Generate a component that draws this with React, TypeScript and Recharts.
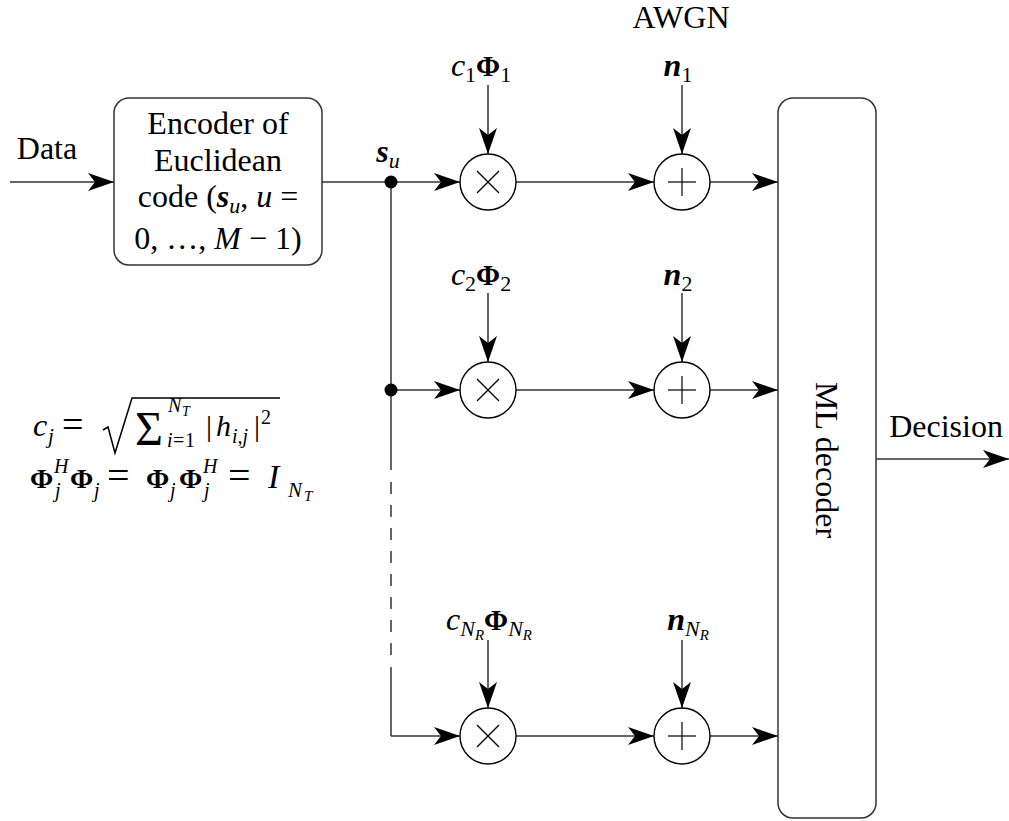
import React from 'react';
import { ScatterChart, Scatter, XAxis, YAxis, ReferenceLine, ReferenceArea } from 'recharts';

const SERIF = '"Liberation Serif", "Times New Roman", Times, serif';
const INK = '#000';
const LINE = '#333';

// ---- diagram data (in diagram units, mapped by the chart's own scales) ----
const canvasX = [0, 1009];
const canvasY = [0, 821];

const branchRows = [182, 390, 736];          // y of the three receive branches
const multiplierX = 488;
const adderX = 682;
const junctionX = 391;
const gainLabelX = [481, 481, 489];
const noiseLabelX = [678, 678, 688];
const labelBaseline = [76, 285, 630];
const feedStart = [85, 293, 640];

const boxes = [
  { id: 'encoder', x1: 114, x2: 322, y1: 98, y2: 265 },
  { id: 'ml', x1: 778, x2: 876, y1: 98, y2: 818 },
];

type Run = { t: string; f?: string; l?: number };

const gainLabels: Run[][] = [
  [{ t: 'c', f: 'i' }, { t: '1', l: 1 }, { t: 'Φ', f: 'b' }, { t: '1', l: 1 }],
  [{ t: 'c', f: 'i' }, { t: '2', l: 1 }, { t: 'Φ', f: 'b' }, { t: '2', l: 1 }],
  [{ t: 'c', f: 'i' }, { t: 'N', f: 'i', l: 1 }, { t: 'R', f: 'i', l: 2 }, { t: 'Φ', f: 'b' }, { t: 'N', f: 'i', l: 1 }, { t: 'R', f: 'i', l: 2 }],
];
const noiseLabels: Run[][] = [
  [{ t: 'n', f: 'bi' }, { t: '1', l: 1 }],
  [{ t: 'n', f: 'bi' }, { t: '2', l: 1 }],
  [{ t: 'n', f: 'bi' }, { t: 'N', f: 'i', l: 1 }, { t: 'R', f: 'i', l: 2 }],
];

const encoderLines: Run[][] = [
  [{ t: 'Encoder of' }],
  [{ t: 'Euclidean' }],
  [{ t: 'code (' }, { t: 's', f: 'bi' }, { t: 'u', f: 'i', l: 1 }, { t: ', ' }, { t: 'u', f: 'i' }, { t: ' =' }],
  [{ t: '0, …, ' }, { t: 'M', f: 'i' }, { t: ' − 1)' }],
];
const encoderBaselines = [134, 171, 207, 249];

const plainLabels = [
  { x: 47, y: 159, runs: [{ t: 'Data' }] as Run[] },
  { x: 681, y: 28, runs: [{ t: 'AWGN' }] as Run[] },
  { x: 946, y: 437, runs: [{ t: 'Decision' }] as Run[] },
  { x: 388, y: 162, runs: [{ t: 's', f: 'bi' }, { t: 'u', f: 'i', l: 1 }] as Run[] },
];

type Piece = { t: string; f?: string; s: number; dx: number; dy: number };
const formulaCj: Piece[] = [
  { t: 'c', f: 'i', s: 32, dx: 0, dy: 0 },
  { t: 'j', f: 'i', s: 21, dx: 15, dy: 7 },
  { t: '=', s: 38, dx: 29, dy: 1 },
  { t: 'Σ', s: 48, dx: 102, dy: 9 },
  { t: 'N', f: 'i', s: 20, dx: 135, dy: -24 },
  { t: 'T', f: 'i', s: 14, dx: 149, dy: -20 },
  { t: 'i', f: 'i', s: 20, dx: 134, dy: 11 },
  { t: '=', s: 20, dx: 140, dy: 11 },
  { t: '1', s: 20, dx: 152, dy: 11 },
  { t: '|', s: 30, dx: 173, dy: 0 },
  { t: 'h', f: 'i', s: 30, dx: 183, dy: 0 },
  { t: 'i,j', f: 'i', s: 20, dx: 199, dy: 7 },
  { t: '|', s: 30, dx: 221, dy: 0 },
  { t: '2', s: 20, dx: 228, dy: -12 },
];
const formulaPhi: Piece[] = [
  { t: 'Φ', f: 'b', s: 28, dx: 0, dy: 0 },
  { t: 'H', f: 'i', s: 20, dx: 24, dy: -15 },
  { t: 'j', f: 'i', s: 20, dx: 25, dy: 9 },
  { t: 'Φ', f: 'b', s: 28, dx: 40, dy: 0 },
  { t: 'j', f: 'i', s: 20, dx: 64, dy: 9 },
  { t: '=', s: 40, dx: 77, dy: 1 },
  { t: 'Φ', f: 'b', s: 28, dx: 116, dy: 0 },
  { t: 'j', f: 'i', s: 20, dx: 140, dy: 9 },
  { t: 'Φ', f: 'b', s: 28, dx: 149, dy: 0 },
  { t: 'H', f: 'i', s: 20, dx: 173, dy: -15 },
  { t: 'j', f: 'i', s: 20, dx: 174, dy: 9 },
  { t: '=', s: 40, dx: 198, dy: 1 },
  { t: 'I', f: 'i', s: 34, dx: 238, dy: 0 },
  { t: 'N', f: 'i', s: 21, dx: 258, dy: 9 },
  { t: 'T', f: 'i', s: 15, dx: 274, dy: 13 },
];

// ---- derived drawing tables ----
type Seg = { x1: number; y1: number; x2: number; y2: number; dash?: string; head?: 'right' | 'down' };
const segments: Seg[] = [
  { x1: 10, y1: branchRows[0], x2: boxes[0].x1, y2: branchRows[0], head: 'right' },
  { x1: boxes[0].x2, y1: branchRows[0], x2: junctionX, y2: branchRows[0] },
  { x1: junctionX, y1: branchRows[0], x2: junctionX, y2: 470 },
  { x1: junctionX, y1: 482, x2: junctionX, y2: 655, dash: '12 11' },
  { x1: junctionX, y1: 667, x2: junctionX, y2: branchRows[2] },
  { x1: boxes[1].x2, y1: 459, x2: 1009, y2: 459, head: 'right' },
];
branchRows.forEach((y, i) => {
  segments.push({ x1: junctionX, y1: y, x2: multiplierX - 28, y2: y, head: 'right' });
  segments.push({ x1: multiplierX + 28, y1: y, x2: adderX - 28, y2: y, head: 'right' });
  segments.push({ x1: adderX + 28, y1: y, x2: boxes[1].x1, y2: y, head: 'right' });
  segments.push({ x1: multiplierX, y1: feedStart[i], x2: multiplierX, y2: y - 28, head: 'down' });
  segments.push({ x1: adderX, y1: feedStart[i], x2: adderX, y2: y - 28, head: 'down' });
});
const arrowHeads = segments.filter((s) => s.head).map((s) => ({ x: s.x2, y: s.y2, dir: s.head }));

const nodes = [
  { x: junctionX, y: branchRows[0], kind: 'dot' },
  { x: junctionX, y: branchRows[1], kind: 'dot' },
  ...branchRows.map((y) => ({ x: multiplierX, y, kind: 'mul' })),
  ...branchRows.map((y) => ({ x: adderX, y, kind: 'add' })),
];

type Lbl = { x: number; y: number; kind: string; runs?: Run[]; pieces?: Piece[]; text?: string };
const labels: Lbl[] = [
  ...plainLabels.map((p) => ({ ...p, kind: 'rich' })),
  ...encoderLines.map((runs, i) => ({ x: (boxes[0].x1 + boxes[0].x2) / 2, y: encoderBaselines[i], runs, kind: 'rich' })),
  ...branchRows.map((_, i) => ({ x: gainLabelX[i], y: labelBaseline[i], runs: gainLabels[i], kind: 'rich' })),
  ...branchRows.map((_, i) => ({ x: noiseLabelX[i], y: labelBaseline[i], runs: noiseLabels[i], kind: 'rich' })),
  { x: 33, y: 436, pieces: formulaCj, kind: 'formula-sqrt' },
  { x: 30, y: 488, pieces: formulaPhi, kind: 'formula' },
  { x: 827, y: 460, text: 'ML decoder', kind: 'vertical' },
];

// ---- shapes ----
const OFF: Record<number, number> = { 0: 0, 1: 6, 2: 10 };
const SIZE: Record<number, number> = { 0: 32, 1: 22, 2: 15 };

function styleOf(f?: string) {
  return {
    fontStyle: f && f.includes('i') ? 'italic' : 'normal',
    fontWeight: f && f.includes('b') ? 'bold' : 'normal',
  } as const;
}

function RichText({ x, y, runs }: { x: number; y: number; runs: Run[] }) {
  let cur = 0;
  return (
    <text x={x} y={y} textAnchor="middle" fontFamily={SERIF} fill={INK} style={{ whiteSpace: 'pre' }}>
      {runs.map((r, i) => {
        const lvl = r.l ?? 0;
        const dy = OFF[lvl] - cur;
        cur = OFF[lvl];
        const size = r.t === 'Φ' ? 29 : SIZE[lvl];
        return (
          <tspan key={i} dy={dy} fontSize={size} {...styleOf(r.f)}>
            {r.t}
          </tspan>
        );
      })}
    </text>
  );
}

function Formula({ x, y, pieces, sqrt }: { x: number; y: number; pieces: Piece[]; sqrt?: boolean }) {
  return (
    <g>
      {sqrt && (
        <path
          d={`M${x + 70},${y - 6} L${x + 75},${y - 9} L${x + 82},${y + 17} L${x + 99},${y - 38} L${x + 247},${y - 38}`}
          fill="none"
          stroke={INK}
          strokeWidth={1.5}
        />
      )}
      <text fontFamily={SERIF} fill={INK}>
        {pieces.map((p, i) => (
          <tspan key={i} x={x + p.dx} y={y + p.dy} fontSize={p.s} {...styleOf(p.f)}>
            {p.t}
          </tspan>
        ))}
      </text>
    </g>
  );
}

const LabelShape = (props: any) => {
  const { cx, cy, payload } = props;
  if (cx == null || cy == null) return <g />;
  const p = payload as Lbl;
  if (p.kind === 'rich') return <RichText x={cx} y={cy} runs={p.runs!} />;
  if (p.kind === 'formula') return <Formula x={cx} y={cy} pieces={p.pieces!} />;
  if (p.kind === 'formula-sqrt') return <Formula x={cx} y={cy} pieces={p.pieces!} sqrt />;
  return (
    <text
      x={cx}
      y={cy}
      transform={`rotate(90, ${cx}, ${cy})`}
      textAnchor="middle"
      dominantBaseline="central"
      fontFamily={SERIF}
      fontSize={32}
      fill={INK}
    >
      {p.text}
    </text>
  );
};

const NodeShape = (props: any) => {
  const { cx, cy, payload } = props;
  if (cx == null || cy == null) return <g />;
  if (payload.kind === 'dot') return <circle cx={cx} cy={cy} r={6.5} fill={INK} />;
  const r = 28;
  return (
    <g>
      <circle cx={cx} cy={cy} r={r} fill="#fff" stroke={INK} strokeWidth={1.4} />
      {payload.kind === 'mul' ? (
        <g stroke={INK} strokeWidth={1.2}>
          <line x1={cx - 11} y1={cy - 11} x2={cx + 11} y2={cy + 11} />
          <line x1={cx - 11} y1={cy + 11} x2={cx + 11} y2={cy - 11} />
        </g>
      ) : (
        <g stroke={INK} strokeWidth={1.2}>
          <line x1={cx - 14} y1={cy} x2={cx + 14} y2={cy} />
          <line x1={cx} y1={cy - 14} x2={cx} y2={cy + 14} />
        </g>
      )}
    </g>
  );
};

const ArrowShape = (props: any) => {
  const { cx, cy, payload } = props;
  if (cx == null || cy == null) return <g />;
  const angle = payload.dir === 'down' ? 90 : 0;
  return (
    <path
      d="M0,0 L-26,-9 L-19,0 L-26,9 Z"
      transform={`translate(${cx},${cy}) rotate(${angle})`}
      fill={INK}
    />
  );
};

const RoundBox = (props: any) => {
  const { x, y, width, height } = props;
  return (
    <rect x={x} y={y} width={width} height={height} rx={15} ry={15} fill="none" stroke={LINE} strokeWidth={1.5} />
  );
};

export default function App() {
  return (
    <div style={{ position: 'absolute', left: 0, top: 0, width: 1009, height: 821, background: '#fff' }}>
      <ScatterChart width={1009} height={821} margin={{ top: 0, right: 0, bottom: 0, left: 0 }}>
        <XAxis type="number" dataKey="x" domain={canvasX} allowDataOverflow hide />
        <YAxis type="number" dataKey="y" domain={canvasY} allowDataOverflow reversed hide />
        {boxes.map((b) => (
          <ReferenceArea
            key={b.id}
            x1={b.x1}
            x2={b.x2}
            y1={b.y1}
            y2={b.y2}
            ifOverflow="visible"
            shape={RoundBox}
          />
        ))}
        {segments.map((s, i) => (
          <ReferenceLine
            key={i}
            segment={[
              { x: s.x1, y: s.y1 },
              { x: s.x2, y: s.y2 },
            ]}
            stroke={LINE}
            strokeWidth={1.5}
            strokeDasharray={s.dash}
            ifOverflow="visible"
          />
        ))}
        <Scatter data={nodes} shape={NodeShape} isAnimationActive={false} />
        <Scatter data={arrowHeads} shape={ArrowShape} isAnimationActive={false} />
        <Scatter data={labels} shape={LabelShape} isAnimationActive={false} />
      </ScatterChart>
    </div>
  );
}
